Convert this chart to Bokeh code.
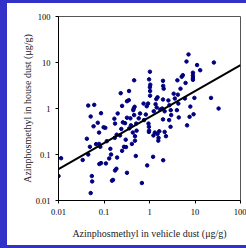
from bokeh.plotting import figure
from bokeh.models import Range1d, FixedTicker, CustomJSTickFormatter, Spacer
from bokeh.layouts import column, row
from bokeh.embed import file_html
from bokeh.resources import INLINE

# vehicle dust (x) and house dust (y), µg/g
veh = [0.01, 0.0114, 0.034, 0.042, 0.045, 0.045, 0.051, 0.061, 0.049, 0.054,
       0.055, 0.051, 0.059, 0.073, 0.086, 0.078, 0.067, 0.078, 0.083, 0.079,
       0.086, 0.107, 0.11, 0.13, 0.115, 0.138, 0.143, 0.15, 0.158, 0.175,
       0.187, 0.194, 0.172, 0.169, 0.175, 0.19, 0.20, 0.225, 0.233, 0.26,
       0.25, 0.276, 0.30, 0.305, 0.32, 0.35, 0.355, 0.32, 0.36, 0.39,
       0.38, 0.41, 0.43, 0.44, 0.47, 0.46, 0.46, 0.48, 0.48, 0.51,
       0.52, 0.50, 0.62, 0.68, 0.74, 0.76, 0.83, 0.87, 0.93, 0.89,
       0.95, 0.97, 0.98, 0.97, 1.02, 0.98, 1.02, 1.03, 1.03, 1.04,
       1.24, 1.31, 1.22, 1.2, 1.36, 1.41, 1.44, 1.5, 1.64, 1.58,
       1.56, 1.98, 2.0, 2.05, 1.98, 1.9, 1.72, 2.15, 1.98, 2.15,
       2.3, 2.0, 2.6, 2.74, 2.93, 3.0, 2.7, 2.9, 3.4, 3.6,
       4.2, 4.3, 4.0, 4.4, 4.1, 4.8, 5.1, 5.4, 6.2, 6.5,
       7.2, 6.7, 7.6, 7.9, 9.0, 9.0, 9.0, 9.0, 9.7, 9.3,
       11.1, 13.0, 22.5, 26.0, 33.0, 6.0, 1.5, 0.25, 0.45, 0.24,
       0.29, 0.32, 0.58, 0.098]
house = [0.034, 0.083, 0.076, 0.22, 0.10, 1.16, 0.67, 1.2, 0.147, 0.034,
         0.026, 0.0145, 0.41, 0.49, 0.79, 0.30, 0.168, 0.17, 0.147, 0.062,
         0.065, 0.38, 0.064, 0.082, 0.195, 0.133, 0.10, 0.027, 0.028, 0.045,
         0.049, 0.086, 0.23, 0.60, 0.47, 0.27, 0.78, 0.26, 2.15, 0.50,
         0.12, 0.147, 0.21, 0.145, 1.44, 1.52, 2.4, 0.040, 0.37, 0.43,
         0.61, 0.17, 0.30, 0.92, 1.09, 0.72, 4.1, 0.20, 0.25, 0.47,
         0.33, 0.093, 0.78, 0.024, 1.28, 0.56, 0.74, 1.12, 1.28, 0.058,
         0.47, 0.40, 0.33, 0.31, 6.3, 4.3, 2.9, 2.4, 1.9, 3.3,
         0.87, 0.30, 0.26, 0.089, 1.24, 1.6, 1.05, 0.28, 0.32, 0.23,
         0.20, 4.0, 3.1, 2.7, 1.57, 1.0, 0.95, 0.87, 0.58, 0.31,
         0.25, 0.075, 1.5, 1.18, 0.92, 0.72, 0.56, 0.40, 2.1, 1.65,
         2.0, 1.28, 0.92, 0.64, 4.1, 2.7, 4.9, 5.3, 3.6, 10.5,
         15.0, 0.43, 0.66, 1.1, 6.0, 5.2, 4.6, 4.2, 1.7, 0.75,
         8.8, 6.8, 1.7, 10.0, 1.0, 1.65, 1.75, 1.14, 1.0, 0.36,
         0.48, 0.63, 0.61, 0.39]

# regression line end points
fit_x = [0.01, 100]
fit_y = [0.048, 8.8]

ticks = [0.01, 0.1, 1, 10, 100]

blue = "#3232c8"
fig = figure(width=239, height=242, x_axis_type="log", y_axis_type="log",
             x_range=Range1d(0.01, 100), y_range=Range1d(0.01, 100),
             output_backend="svg", toolbar_location=None,
             min_border_left=51, min_border_right=6,
             min_border_top=13, min_border_bottom=45)

fig.grid.visible = False
fig.outline_line_color = "#555555"
fig.outline_line_width = 1
fig.background_fill_color = "white"
fig.border_fill_color = "white"

fig.scatter(veh, house, size=3.5, color="#000080", line_color="#000080")
fig.line(fit_x, fit_y, line_color="black", line_width=2)

fmt = CustomJSTickFormatter(code="return tick.toString();")
for ax in (fig.xaxis[0], fig.yaxis[0]):
    ax.ticker = FixedTicker(ticks=ticks, minor_ticks=[])
    ax.formatter = fmt
    ax.major_tick_in = 0
    ax.major_tick_out = 3
    ax.minor_tick_in = 0
    ax.minor_tick_out = 0
    ax.axis_line_color = "black"
    ax.major_tick_line_color = "black"
    ax.major_label_text_font = "Liberation Serif"
    ax.major_label_text_font_size = "8.5px"
    ax.major_label_text_color = "black"
    ax.axis_label_text_font = "Liberation Serif"
    ax.axis_label_text_font_style = "normal"
    ax.axis_label_text_font_size = "10px"
    ax.axis_label_text_color = "#222222"

fig.xaxis.axis_label = "Azinphosmethyl in vehicle dust (μg/g)"
fig.yaxis.axis_label = "Azinphosmethyl in house dust (μg/g)"
fig.xaxis.major_label_standoff = 5
fig.yaxis.major_label_standoff = 5
fig.xaxis.axis_label_standoff = 10
fig.yaxis.axis_label_standoff = 0

band = {"background-color": blue}
p = column(
    Spacer(width=246, height=3, styles=band),
    row(Spacer(width=7, height=242, styles=band), fig, spacing=0),
    Spacer(width=246, height=3, styles=band),
    spacing=0,
)

open("out.html", "w").write(file_html(p, INLINE))
